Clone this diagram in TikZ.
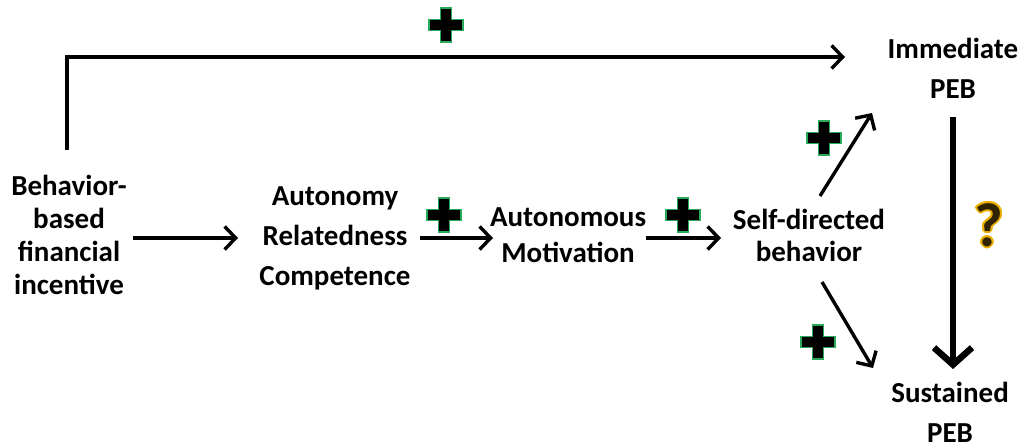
\documentclass[tikz,border=0pt]{standalone}
\usepackage{fontspec}
\setmainfont{Carlito}
\usepackage[copies]{contour}
\contourlength{1.8pt}
\contournumber{16}
\usetikzlibrary{arrows.meta}
\definecolor{plusgreen}{RGB}{40,170,90}
\definecolor{qgold}{RGB}{235,175,0}
\begin{document}
\begin{tikzpicture}[x=1pt,y=-1pt,
  lbl/.style={align=center, inner sep=0pt},
  arr/.style={line width=3.4pt, -{Straight Barb[length=11pt,width=23pt]}},
  bigarr/.style={line width=6.5pt, -{Straight Barb[length=17pt,width=38pt]}},
  pics/plusmark/.style={code={
    \filldraw[fill=black, draw=plusgreen, line width=1.8pt]
      (-5.5,-17)--(5.5,-17)--(5.5,-5.5)--(17,-5.5)--(17,5.5)--(5.5,5.5)--(5.5,17)
      --(-5.5,17)--(-5.5,5.5)--(-17,5.5)--(-17,-5.5)--(-5.5,-5.5)--cycle;
  }}]
\useasboundingbox (0,0) rectangle (1023,444);

\node[lbl, font=\bfseries\fontsize{29}{33}\selectfont] (inc) at (69,235) {Behavior-\\based\\financial\\incentive};
\node[lbl, font=\bfseries\fontsize{29}{40}\selectfont] (arn) at (335,238) {Autonomy\\Relatedness\\Competence};
\node[lbl, font=\bfseries\fontsize{29}{36}\selectfont] (mot) at (568,235) {Autonomous\\Motivation};
\node[lbl, font=\bfseries\fontsize{29}{32}\selectfont] (sdb) at (809,235) {Self-directed\\behavior};
\node[lbl, font=\bfseries\fontsize{29}{40}\selectfont] (imm) at (953,68) {Immediate\\PEB};
\node[lbl, font=\bfseries\fontsize{29}{40}\selectfont] (sus) at (950,412) {Sustained\\PEB};

\coordinate (topstart) at (67,150);
\coordinate (topcorner) at (67,57);
\coordinate (topend) at (845,57);
\draw[arr] (topstart) -- (topcorner) -- (topend);

\coordinate (a1s) at (133,238); \coordinate (a1e) at (238,238);
\coordinate (a2s) at (420,238); \coordinate (a2e) at (493,238);
\coordinate (a3s) at (646,238); \coordinate (a3e) at (721,238);
\draw[arr] (a1s) -- (a1e);
\draw[arr] (a2s) -- (a2e);
\draw[arr] (a3s) -- (a3e);

\coordinate (d1s) at (820,196); \coordinate (d1e) at (872,113);
\coordinate (d2s) at (822,282); \coordinate (d2e) at (873,368);
\draw[arr] (d1s) -- (d1e);
\draw[arr] (d2s) -- (d2e);

\coordinate (vs) at (953,117); \coordinate (ve) at (953,369);
\draw[bigarr] (vs) -- (ve);

\pic at (446,25) {plusmark};
\pic at (444,215) {plusmark};
\pic at (683,215) {plusmark};
\pic at (824,138) {plusmark};
\pic at (818,342) {plusmark};

\node[lbl, font=\bfseries\fontsize{62}{62}\selectfont] (q) at (989,226) {\contour{qgold}{\textcolor{black!80!qgold}{?}}};
\end{tikzpicture}
\end{document}
